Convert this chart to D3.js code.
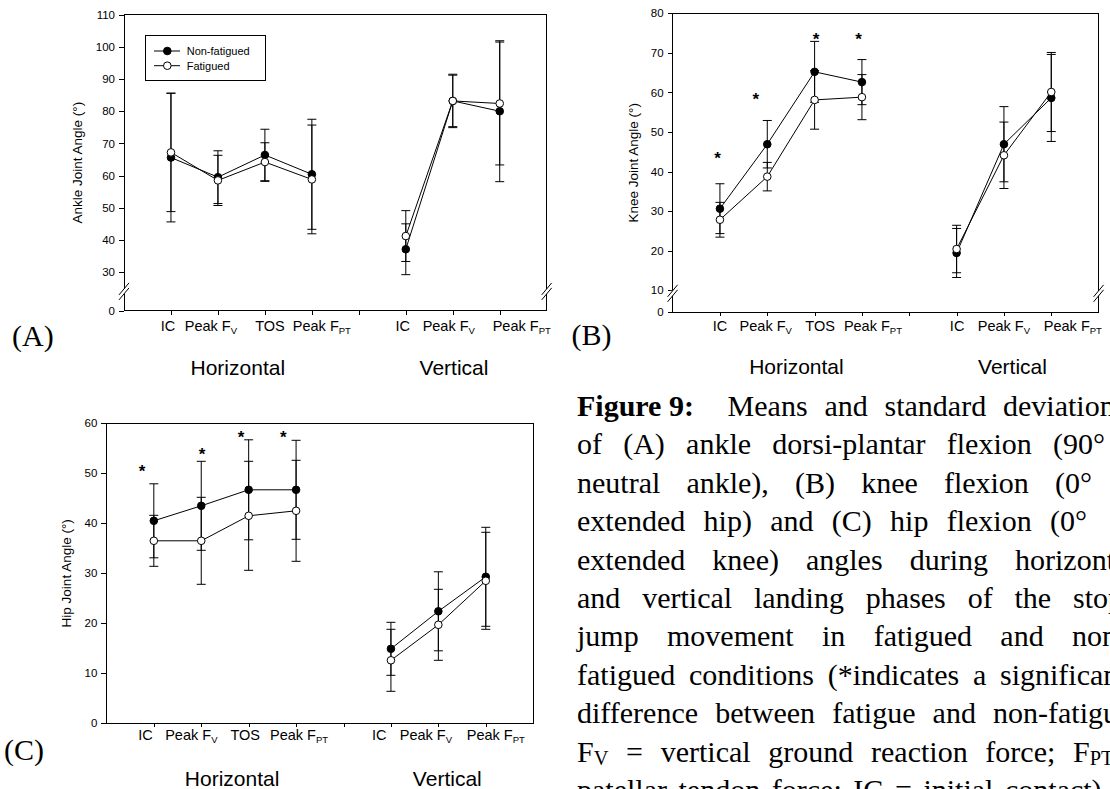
<!DOCTYPE html>
<html>
<head>
<meta charset="utf-8">
<script src="https://cdn.jsdelivr.net/npm/d3@7/dist/d3.min.js"></script>
<style>
  body { margin: 0; background: #fff; overflow: hidden; }
  svg { display: block; }
  .chart text { font-family: "Liberation Sans", Arial, sans-serif; fill: #000; }
  .chart .ytick text { font-size: 11.5px; }
  .caption text { font-family: "Liberation Serif", "Times New Roman", serif; font-size: 30px; fill: #000; }
</style>
</head>
<body>
<svg id="fig" width="1110" height="789"></svg>
<script>
"use strict";

// x tick labels: [text, subscript]
var hLabels = [["IC", ""], ["Peak F", "V"], ["TOS", ""], ["Peak F", "PT"]];
var vLabels = [["IC", ""], ["Peak F", "V"], ["Peak F", "PT"]];
var groups = ["Horizontal", "Vertical"];
var seriesNames = ["Non-fatigued", "Fatigued"];

// (A) ankle - means and SD, horizontal then vertical phases
var ankleTicks = [30, 40, 50, 60, 70, 80, 90, 100, 110];
var ankleNfH   = [65.6, 59.5, 66.4, 60.4];
var ankleNfHsd = [20.0, 8.2, 8.0, 17.1];
var ankleFH    = [67.2, 58.5, 64.2, 58.8];
var ankleFHsd  = [18.4, 7.8, 6.0, 16.9];
var ankleNfV   = [37.1, 83.2, 80.0];
var ankleNfVsd = [7.9, 8.3, 21.9];
var ankleFV    = [41.2, 83.2, 82.4];
var ankleFVsd  = [7.9, 8.0, 19.1];

// (B) knee
var kneeTicks = [10, 20, 30, 40, 50, 60, 70, 80];
var kneeNfH   = [30.6, 46.9, 65.2, 62.6];
var kneeNfHsd = [6.3, 6.0, 7.7, 5.7];
var kneeFH    = [27.8, 38.7, 58.1, 58.8];
var kneeFHsd  = [4.4, 3.6, 7.4, 5.7];
var kneeNfV   = [19.4, 46.9, 58.6];
var kneeNfVsd = [6.2, 9.5, 11.0];
var kneeFV    = [20.4, 44.1, 60.1];
var kneeFVsd  = [6.0, 8.4, 10.0];
var kneeStarX = [0.95, 1.76, 3.03, 3.93];
var kneeStarY = [44.4, 59.2, 74.5, 74.5];

// (C) hip
var hipTicks = [0, 10, 20, 30, 40, 50, 60];
var hipNfH   = [40.5, 43.5, 46.7, 46.7];
var hipNfHsd = [7.4, 8.9, 10.0, 9.9];
var hipFH    = [36.5, 36.5, 41.5, 42.5];
var hipFHsd  = [5.1, 8.7, 10.9, 10.1];
var hipNfV   = [14.9, 22.4, 29.3];
var hipNfVsd = [5.3, 7.9, 9.9];
var hipFV    = [12.6, 19.7, 28.5];
var hipFVsd  = [6.2, 7.1, 9.7];
var hipStarX = [0.75, 2.02, 2.84, 3.73];
var hipStarY = [51.2, 54.5, 58.0, 58.0];

var captionLines = [
  "Figure\u00a09:  Means and standard deviations",
  "of (A) ankle dorsi-plantar flexion (90°",
  "neutral ankle), (B) knee flexion (0°",
  "extended hip) and (C) hip flexion (0°",
  "extended knee) angles during horizontal",
  "and vertical landing phases of the stop-",
  "jump movement in fatigued and non-",
  "fatigued conditions (*indicates a significant",
  "difference between fatigue and non-fatigue;",
  "F_V = vertical ground reaction force; F_PT",
  "patellar tendon force; IC = initial contact)."
];
// [word index, x where that word starts] used to justify each line
var captionAnchors = [[4, 1003], [5, 1053], [5, 1055], [6, 1050], [4, 1015], [6, 1073],
                      [5, 1072], [4, 1000], [4, 993], [6, 1073], [6, 1005]];

var svg = d3.select("#fig");
var chart = svg.append("g").attr("class", "chart");

var panels = [
  { tag: "(A)", tagX: 12, tagY: 346, left: 124, right: 546.7, top: 14.7, bottom: 310.7,
    low: 18, high: 110, ticks: ankleTicks, brk: 24, brkRight: true,
    title: "Ankle Joint Angle (°)", titleX: 77.5, labelY: 331, groupY: 375, groupX: [237.8, 454],
    hDx: [-3, -7, 5, 10], vDx: [-3, -4, 22],
    nf: [ankleNfH, ankleNfHsd, ankleNfV, ankleNfVsd], f: [ankleFH, ankleFHsd, ankleFV, ankleFVsd],
    legend: true },
  { tag: "(B)", tagX: 571.5, tagY: 345, left: 672.6, right: 1098.6, top: 13.3, bottom: 312.3,
    low: 4.4, high: 80, ticks: kneeTicks, brk: 9.2, brkRight: true,
    title: "Knee Joint Angle (°)", titleX: 632.8, labelY: 331, groupY: 374, groupX: [796.4, 1012.5],
    hDx: [0, -1.5, 5.5, 11], vDx: [0.5, 0, 21.6],
    nf: [kneeNfH, kneeNfHsd, kneeNfV, kneeNfVsd], f: [kneeFH, kneeFHsd, kneeFV, kneeFVsd],
    starX: kneeStarX, starY: kneeStarY },
  { tag: "(C)", tagX: 4, tagY: 760, left: 106.4, right: 533.2, top: 423.3, bottom: 723.3,
    low: 0, high: 60, ticks: hipTicks, brk: null,
    title: "Hip Joint Angle (°)", titleX: 66.1, labelY: 740, groupY: 786, groupX: [232.1, 447.3],
    hDx: [-8.4, -9.9, -3.4, 3], vDx: [-11.6, -12.5, 10],
    nf: [hipNfH, hipNfHsd, hipNfV, hipNfVsd], f: [hipFH, hipFHsd, hipFV, hipFVsd],
    starX: hipStarX, starY: hipStarY }
];

function addLabel(sel, lab, subSize, subDy) {
  sel.append("tspan").text(lab[0]);
  if (lab[1]) sel.append("tspan").attr("font-size", subSize).attr("dy", subDy).text(lab[1]);
}

function drawPanel(p) {
  var w = p.right - p.left, h = p.bottom - p.top;
  var g = chart.append("g").attr("transform", "translate(" + p.left + "," + p.top + ")");
  var x = d3.scaleLinear().domain([0, 9]).range([0, w]);
  var y = d3.scaleLinear().domain([p.low, p.high]).range([h, 0]);

  g.append("rect").attr("width", w).attr("height", h)
    .attr("fill", "none").attr("stroke", "#000").attr("shape-rendering", "crispEdges");

  var yVals = p.brk === null ? p.ticks : [p.low].concat(p.ticks);
  var yAxis = d3.axisLeft(y).tickValues(yVals).tickSize(5).tickPadding(4).tickSizeOuter(0)
    .tickFormat(function(d) { return d === p.low ? "0" : d; });
  g.append("g").attr("class", "ytick").call(yAxis);

  var xAxis = d3.axisBottom(x).tickValues([1, 2, 3, 4, 5, 6, 7, 8]).tickSize(4).tickSizeOuter(0).tickFormat("");
  g.append("g").attr("transform", "translate(0," + h + ")").call(xAxis);
  g.selectAll(".domain").remove();
  g.selectAll(".tick line").attr("shape-rendering", "crispEdges");

  // axis break marks
  if (p.brk !== null) {
    var yy = y(p.brk);
    var sides = p.brkRight ? [0, w] : [0];
    sides.forEach(function(xx) {
      g.append("rect").attr("x", xx - 2).attr("y", yy - 2.5).attr("width", 4).attr("height", 5).attr("fill", "#fff");
      [-2.5, 2.5].forEach(function(o) {
        g.append("line").attr("x1", xx - 5).attr("y1", yy + o + 6).attr("x2", xx + 5).attr("y2", yy + o - 6)
          .attr("stroke", "#000").attr("stroke-width", 1);
      });
    });
  }

  // x labels
  var lg = g.append("g").attr("font-size", "14.5px").attr("text-anchor", "middle");
  hLabels.forEach(function(lab, i) {
    addLabel(lg.append("text").attr("x", x(i + 1) + p.hDx[i]).attr("y", p.labelY - p.top), lab, "9.5px", 3);
  });
  vLabels.forEach(function(lab, i) {
    addLabel(lg.append("text").attr("x", x(i + 6) + p.vDx[i]).attr("y", p.labelY - p.top), lab, "9.5px", 3);
  });

  // series: non-fatigued first, fatigued on top
  [[p.nf, true], [p.f, false]].forEach(function(s) {
    var d = s[0], filled = s[1];
    var hPts = d[0].map(function(m, i) { return { x: i + 1, m: m, sd: d[1][i] }; });
    var vPts = d[2].map(function(m, i) { return { x: i + 6, m: m, sd: d[3][i] }; });
    var pts = hPts.concat(vPts);

    g.append("g").selectAll("path").data(pts).enter().append("path")
      .attr("fill", "none").attr("stroke", "#000").attr("stroke-width", 1)
      .attr("d", function(e) {
        var cx = x(e.x), y1 = y(e.m + e.sd), y2 = y(e.m - e.sd);
        return "M" + cx + "," + y1 + "V" + y2 + "M" + (cx - 4.5) + "," + y1 + "h9M" + (cx - 4.5) + "," + y2 + "h9";
      });

    var line = d3.line().x(function(e) { return x(e.x); }).y(function(e) { return y(e.m); });
    [hPts, vPts].forEach(function(seg) {
      g.append("path").attr("d", line(seg)).attr("fill", "none").attr("stroke", "#000").attr("stroke-width", 1);
    });

    g.append("g").selectAll("circle").data(pts).enter().append("circle")
      .attr("cx", function(e) { return x(e.x); })
      .attr("cy", function(e) { return y(e.m); })
      .attr("r", 3.8)
      .attr("fill", filled ? "#000" : "#fff")
      .attr("stroke", "#000").attr("stroke-width", 1);
  });

  // significance stars
  if (p.starX) {
    g.append("g").selectAll("text").data(p.starX).enter().append("text")
      .attr("x", function(d) { return x(d); })
      .attr("y", function(d, i) { return y(p.starY[i]) + 9.5; })
      .attr("text-anchor", "middle").attr("font-size", "17px").attr("font-weight", "bold")
      .text("*");
  }

  // legend
  if (p.legend) {
    var lgd = chart.append("g");
    lgd.append("rect").attr("x", 145).attr("y", 35).attr("width", 120.7).attr("height", 45.7)
      .attr("fill", "#fff").attr("stroke", "#000").attr("shape-rendering", "crispEdges");
    seriesNames.forEach(function(name, i) {
      var ly = 51 + i * 14.7;
      lgd.append("line").attr("x1", 154).attr("x2", 180).attr("y1", ly).attr("y2", ly).attr("stroke", "#000");
      lgd.append("circle").attr("cx", 167.3).attr("cy", ly).attr("r", 3.8)
        .attr("fill", i === 0 ? "#000" : "#fff").attr("stroke", "#000");
      lgd.append("text").attr("x", 186.7).attr("y", ly + 4).attr("font-size", "11px").text(name);
    });
  }

  // axis title, group labels, panel tag
  chart.append("text")
    .attr("transform", "translate(" + p.titleX + "," + (p.top + p.bottom) / 2 + ") rotate(-90)")
    .attr("dy", "0.35em").attr("text-anchor", "middle").attr("font-size", "13.5px").text(p.title);
  groups.forEach(function(name, i) {
    chart.append("text").attr("x", p.groupX[i]).attr("y", p.groupY)
      .attr("text-anchor", "middle").attr("font-size", "21px").text(name);
  });
  svg.append("text").attr("x", p.tagX).attr("y", p.tagY)
    .attr("font-family", "'Liberation Serif', 'Times New Roman', serif").attr("font-size", "30px")
    .text(p.tag);
}

panels.forEach(drawPanel);

// caption, justified word by word
var capX = 577, capY = 416, capLead = 38.4;
var cap = svg.append("g").attr("class", "caption");
captionLines.forEach(function(lineStr, li) {
  var tokens = lineStr.split(" ");
  var words = [], gaps = [], pending = 0;
  tokens.forEach(function(t) {
    if (t === "") { pending++; return; }
    gaps.push(words.length === 0 ? 0 : pending + 1);
    words.push(t);
    pending = 0;
  });
  var nodes = words.map(function(wd, wi) {
    var t = cap.append("text").attr("y", capY + li * capLead);
    if (li === 0 && wi === 0) t.attr("font-weight", "bold");
    var m = wd.match(/^F_([A-Z]+)$/);
    if (m) {
      t.append("tspan").text("F");
      t.append("tspan").attr("font-size", "0.68em").attr("dy", 3).text(m[1]);
    } else {
      t.text(wd);
    }
    return t;
  });
  var widths = nodes.map(function(n) { return n.node().getComputedTextLength(); });
  var ai = captionAnchors[li][0], ax = captionAnchors[li][1];
  var sumW = d3.sum(widths.slice(0, ai)), sumG = d3.sum(gaps.slice(0, ai + 1));
  var gap = (ax - capX - sumW) / sumG;
  var cx = capX;
  nodes.forEach(function(n, i) {
    cx += gaps[i] * gap;
    n.attr("x", cx);
    cx += widths[i];
  });
});
</script>
</body>
</html>
